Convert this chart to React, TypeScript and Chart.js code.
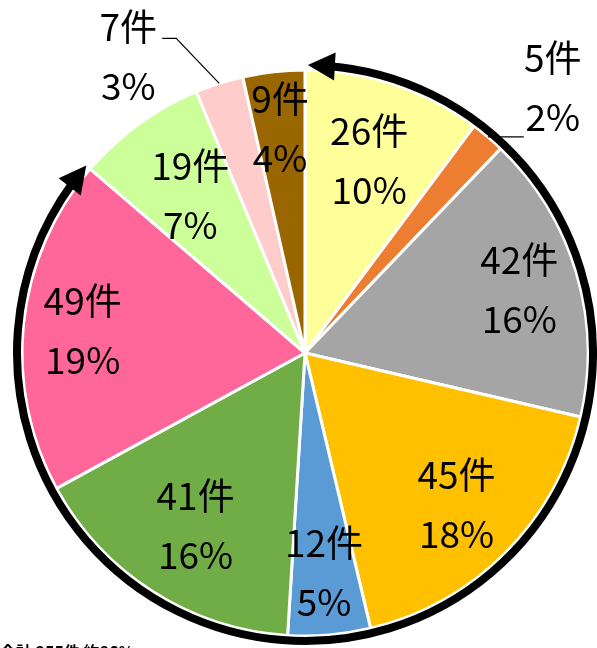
import React, { useEffect, useRef } from "react";
import { Chart, registerables } from "chart.js";

Chart.register(...registerables);

const categories = ["区分1", "区分2", "区分3", "区分4", "区分5", "区分6", "区分7", "区分8", "区分9", "区分10"];
const counts = [26, 5, 42, 45, 12, 41, 49, 19, 7, 9];
const unitSuffix = "件";
const sliceColors = ["#FFFF99", "#ED7D31", "#A5A5A5", "#FFC000", "#5B9BD5", "#70AD47", "#FF6699", "#CCFF99", "#FFCCCC", "#996600"];
const bracketFirst = 0;
const bracketLast = 6;
const footnote = "合計 255件 約86%";

// label layout (radial factor per slice; null = outside label with leader)
const labelRadius: (number | null)[] = [0.72, null, 0.79, 0.755, 0.777, 0.72, 0.79, 0.69, null, 0.8];

const FONT = '37px "Noto Sans CJK JP", "Noto Sans", sans-serif';

const overlayPlugin = {
  id: "overlay",
  afterDatasetsDraw(chart: any) {
    const meta = chart.getDatasetMeta(0);
    const arcs = meta.data as any[];
    if (!arcs.length) return;
    const ctx = chart.ctx as CanvasRenderingContext2D;
    const cx = arcs[0].x;
    const cy = arcs[0].y;
    const R = arcs[0].outerRadius;
    const total = counts.reduce((s, v) => s + v, 0);

    ctx.save();
    ctx.strokeStyle = "#000";
    ctx.lineWidth = 1.2;
    const outsideAnchors: Record<number, [number, number]> = {};
    arcs.forEach((a: any, i: number) => {
      if (labelRadius[i] !== null) return;
      const mid = (a.startAngle + a.endAngle) / 2;
      const ex = cx + R * Math.cos(mid);
      const ey = cy + R * Math.sin(mid);
      ctx.beginPath();
      ctx.moveTo(ex, ey);
      if (Math.cos(mid) >= 0) {
        ctx.lineTo(ex + 36, ey);
        ctx.stroke();
        outsideAnchors[i] = [ex + 36 + 29, ey - 50];
      } else {
        ctx.lineTo(ex - 43, ey - 45);
        ctx.lineTo(ex - 57, ey - 45);
        ctx.stroke();
        outsideAnchors[i] = [ex - 57 - 34, ey - 45 + 18];
      }
    });

    ctx.font = FONT;
    ctx.fillStyle = "#000";
    ctx.textAlign = "center";
    ctx.textBaseline = "middle";
    arcs.forEach((a: any, i: number) => {
      const mid = (a.startAngle + a.endAngle) / 2;
      let x: number, y: number;
      const f = labelRadius[i];
      if (f !== null) {
        x = cx + R * f * Math.cos(mid);
        y = cy + R * f * Math.sin(mid);
      } else {
        [x, y] = outsideAnchors[i];
      }
      const pct = Math.round((counts[i] / total) * 100) + "%";
      ctx.fillText(counts[i] + unitSuffix, x, y - 29);
      ctx.fillText(pct, x, y + 30);
    });

    const Ra = R + 5;
    const aStart = arcs[bracketFirst].startAngle;
    const aEnd = arcs[bracketLast].endAngle;
    const headLen = 27;
    const headHalf = 14;
    const dA = headLen / Ra;
    ctx.strokeStyle = "#000";
    ctx.fillStyle = "#000";
    ctx.lineWidth = 8;
    ctx.beginPath();
    ctx.arc(cx, cy, Ra, aStart + dA * 0.85, aEnd - dA * 0.85);
    ctx.stroke();
    const head = (tipA: number, baseA: number) => {
      const tx = cx + Ra * Math.cos(tipA);
      const ty = cy + Ra * Math.sin(tipA);
      const bx = cx + Ra * Math.cos(baseA);
      const by = cy + Ra * Math.sin(baseA);
      const dx = tx - bx;
      const dy = ty - by;
      const len = Math.hypot(dx, dy);
      const nx = -dy / len;
      const ny = dx / len;
      ctx.beginPath();
      ctx.moveTo(tx, ty);
      ctx.lineTo(bx + nx * headHalf, by + ny * headHalf);
      ctx.lineTo(bx - nx * headHalf, by - ny * headHalf);
      ctx.closePath();
      ctx.fill();
    };
    head(aStart + 0.01, aStart + 0.01 + dA);
    head(aEnd, aEnd - dA);
    ctx.restore();
  },
};

export default function App() {
  const canvasRef = useRef<HTMLCanvasElement | null>(null);

  useEffect(() => {
    if (!canvasRef.current) return;
    const chart = new Chart(canvasRef.current, {
      type: "pie",
      data: {
        labels: categories,
        datasets: [
          {
            data: counts,
            backgroundColor: sliceColors,
            borderColor: "#FFFFFF",
            borderWidth: 3,
          },
        ],
      },
      options: {
        responsive: false,
        animation: false,
        devicePixelRatio: 1,
        radius: 283,
        layout: { padding: { left: 13, top: 58, right: 0, bottom: 0 } },
        plugins: {
          legend: { display: false },
          tooltip: { enabled: false },
        },
      } as any,
      plugins: [overlayPlugin],
    });
    return () => chart.destroy();
  }, []);

  return (
    <div style={{ position: "fixed", left: 0, top: 0, width: 597, height: 648, background: "#fff", overflow: "hidden" }}>
      <canvas ref={canvasRef} width={597} height={648} style={{ display: "block" }} />
      <div
        style={{
          position: "absolute",
          left: 0,
          top: 643,
          fontFamily: '"Noto Sans CJK JP", sans-serif',
          fontWeight: 700,
          fontSize: 16,
          lineHeight: "16px",
          whiteSpace: "nowrap",
          color: "#000",
        }}
      >
        {footnote}
      </div>
    </div>
  );
}
